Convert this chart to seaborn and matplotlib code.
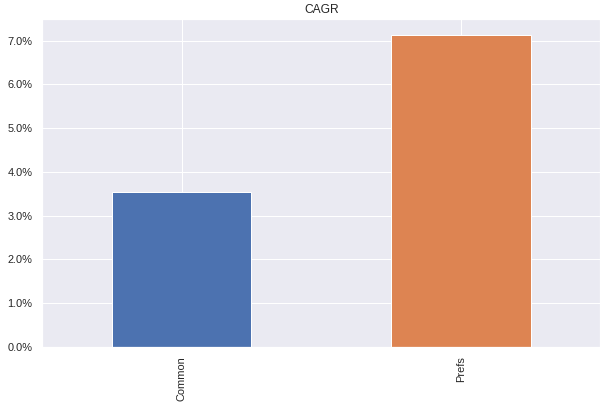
import seaborn as sns
import matplotlib.pyplot as plt
from matplotlib.ticker import PercentFormatter

categories = ['Common', 'Prefs']
cagr = [0.0355, 0.0714]

sns.set_theme()
plt.rcParams['font.family'] = ['Liberation Sans', 'DejaVu Sans']
palette = sns.color_palette('deep')[:2]

fig = plt.figure(figsize=(613 / 72, 408 / 72), dpi=72)
ax = fig.add_axes([0.0685, 0.1495, 0.911, 0.804])
sns.barplot(x=categories, y=cagr, hue=categories, palette=palette,
            width=0.5, legend=False, saturation=1, ax=ax)
ax.set_xlim(-0.5, 1.5)
ax.xaxis.grid(True)
ax.yaxis.set_major_formatter(PercentFormatter(xmax=1, decimals=1))
ax.set_title('CAGR', fontsize=12)
for lbl in ax.get_xticklabels():
    lbl.set_rotation(90)

plt.savefig('out.png', dpi=72)
